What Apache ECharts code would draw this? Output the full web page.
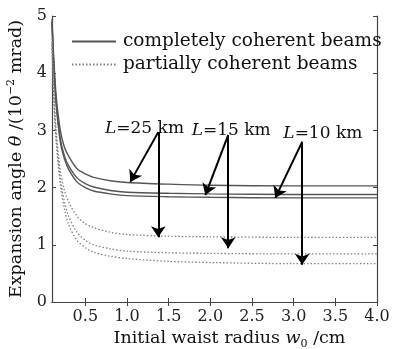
<!DOCTYPE html>
<html>
<head>
<meta charset="utf-8">
<script src="https://cdn.jsdelivr.net/npm/echarts@6/dist/echarts.min.js"></script>
<style>
  html, body { margin: 0; padding: 0; background: #fff; }
  #main { width: 393px; height: 349px; }
</style>
</head>
<body>
<div id="main"></div>
<script>
var xTicks = [0.5, 1.0, 1.5, 2.0, 2.5, 3.0, 3.5, 4.0];
var xs = [0.1, 0.12, 0.15, 0.2, 0.25, 0.3, 0.4, 0.5, 0.6, 0.8, 1.0, 1.5, 2.0, 3.0, 4.0];
// completely coherent beams
var coh25 = [4.95, 4.3, 3.6, 3.0, 2.7, 2.55, 2.33, 2.24, 2.18, 2.12, 2.09, 2.06, 2.04, 2.03, 2.03];
var coh15 = [4.9, 4.2, 3.5, 2.85, 2.55, 2.38, 2.17, 2.07, 2.01, 1.95, 1.92, 1.9, 1.89, 1.88, 1.88];
var coh10 = [4.85, 4.15, 3.45, 2.8, 2.5, 2.32, 2.1, 2.0, 1.94, 1.89, 1.86, 1.84, 1.83, 1.82, 1.82];
// partially coherent beams
var par25 = [4.6, 3.8, 3.0, 2.3, 1.95, 1.75, 1.5, 1.37, 1.3, 1.22, 1.18, 1.15, 1.14, 1.13, 1.13];
var par15 = [4.55, 3.7, 2.9, 2.15, 1.75, 1.5, 1.22, 1.08, 1.0, 0.93, 0.89, 0.86, 0.85, 0.84, 0.84];
var par10 = [4.5, 3.6, 2.8, 2.05, 1.62, 1.35, 1.08, 0.95, 0.87, 0.8, 0.76, 0.71, 0.69, 0.67, 0.67];
// labels: [L value, x, y]; arrows: [from, diagonal tip, downward tip]
var labels = [['25', 1.21, 3.04], ['15', 2.25, 3.0], ['10', 3.35, 2.95]];
var arrows = [
  [[1.375, 2.97], [1.04, 2.10], [1.375, 1.13]],
  [[2.215, 2.92], [1.94, 1.87], [2.215, 0.94]],
  [[3.102, 2.80], [2.78, 1.82], [3.102, 0.65]]
];

var serif = '"DejaVu Serif", serif';
var chart = echarts.init(document.getElementById('main'));

function pairs(ys) {
  return xs.map(function (x, i) { return [x, ys[i]]; });
}

var arrowLines = [];
arrows.forEach(function (a) {
  arrowLines.push([{ coord: a[0], symbol: 'none' }, { coord: a[1], symbol: 'arrow' }]);
  arrowLines.push([{ coord: a[0], symbol: 'none' }, { coord: a[2], symbol: 'arrow' }]);
});

function lineSeries(name, ys, dotted) {
  return {
    name: name,
    type: 'line',
    data: pairs(ys),
    smooth: 0.3,
    symbol: 'none',
    silent: true,
    lineStyle: {
      color: dotted ? '#808080' : '#555',
      width: dotted ? 1.3 : 1.4,
      type: dotted ? [1.5, 2] : 'solid'
    },
    itemStyle: { color: dotted ? '#808080' : '#555' }
  };
}

var seriesList = [
  lineSeries('completely coherent beams', coh25, false),
  lineSeries('completely coherent beams', coh15, false),
  lineSeries('completely coherent beams', coh10, false),
  lineSeries('partially coherent beams', par25, true),
  lineSeries('partially coherent beams', par15, true),
  lineSeries('partially coherent beams', par10, true)
];
seriesList[0].markLine = {
  silent: true,
  symbolSize: 11,
  label: { show: false },
  lineStyle: { color: '#000', width: 2, type: 'solid' },
  data: arrowLines
};

var axisLine = { show: true, lineStyle: { color: '#444', width: 1.2 } };
var tick = { show: true, inside: true, length: 4, lineStyle: { color: '#444' } };

chart.setOption({
  backgroundColor: '#fff',
  animation: false,
  textStyle: { fontFamily: serif },
  grid: { left: 52, right: 16, top: 16, bottom: 47, outerBoundsMode: 'none', containLabel: false },
  legend: {
    orient: 'vertical',
    left: 66,
    top: 27,
    itemWidth: 44,
    itemHeight: 12,
    itemGap: 4,
    selectedMode: false,
    itemStyle: { opacity: 0 },
    textStyle: { fontFamily: serif, fontSize: 18.5, color: '#111', padding: [0, 0, 0, 2] },
    data: ['completely coherent beams', 'partially coherent beams']
  },
  xAxis: [{
    type: 'value',
    min: 0.1,
    max: 4.0,
    axisLine: axisLine,
    axisTick: Object.assign({ customValues: xTicks }, tick),
    splitLine: { show: false },
    axisLabel: {
      customValues: xTicks,
      fontFamily: serif, fontSize: 16, color: '#222', margin: 7,
      formatter: function (v) { return v.toFixed(1); }
    },
    name: '{n|Initial waist radius }{it|w}{sub|0}{n| /cm}',
    nameLocation: 'middle',
    nameGap: 22,
    nameTextStyle: {
      padding: [0, 0, 0, 30],
      rich: {
        n: { fontFamily: serif, fontSize: 17.5, color: '#111' },
        it: { fontFamily: serif, fontSize: 17.5, fontStyle: 'italic', color: '#111' },
        sub: { fontFamily: serif, fontSize: 11, color: '#111', padding: [10, 0, 0, 0] }
      }
    }
  }, {
    type: 'value',
    position: 'top',
    min: 0.1,
    max: 4.0,
    axisLine: axisLine,
    axisTick: Object.assign({ customValues: xTicks }, tick),
    axisLabel: { show: false },
    splitLine: { show: false }
  }],
  yAxis: [{
    type: 'value',
    min: 0,
    max: 5,
    interval: 1,
    axisLine: axisLine,
    axisTick: tick,
    splitLine: { show: false },
    axisLabel: { fontFamily: serif, fontSize: 16, color: '#222', margin: 5 },
    name: '{n|Expansion angle }{it|θ}{n| /(10}{sup|−2}{n| mrad)}',
    nameLocation: 'middle',
    nameRotate: 90,
    nameGap: 26,
    nameTextStyle: {
      rich: {
        n: { fontFamily: serif, fontSize: 17.5, color: '#111' },
        it: { fontFamily: serif, fontSize: 17.5, fontStyle: 'italic', color: '#111' },
        sup: { fontFamily: serif, fontSize: 11, color: '#111', padding: [0, 0, 9, 0] }
      }
    }
  }, {
    type: 'value',
    position: 'right',
    min: 0,
    max: 5,
    interval: 1,
    axisLine: axisLine,
    axisTick: tick,
    axisLabel: { show: false },
    splitLine: { show: false }
  }],
  series: seriesList
});

// L = ... km labels placed in data coordinates
var texts = labels.map(function (l) {
  var p = chart.convertToPixel({ xAxisIndex: 0, yAxisIndex: 0 }, [l[1], l[2]]);
  return {
    type: 'text',
    x: p[0],
    y: p[1],
    style: {
      text: '{it|L}{n|=' + l[0] + ' km}',
      align: 'center',
      verticalAlign: 'middle',
      rich: {
        it: { fontFamily: serif, fontSize: 17, fontStyle: 'italic', fill: '#111' },
        n: { fontFamily: serif, fontSize: 17, fill: '#111' }
      }
    }
  };
});
chart.setOption({ graphic: texts });
</script>
</body>
</html>
